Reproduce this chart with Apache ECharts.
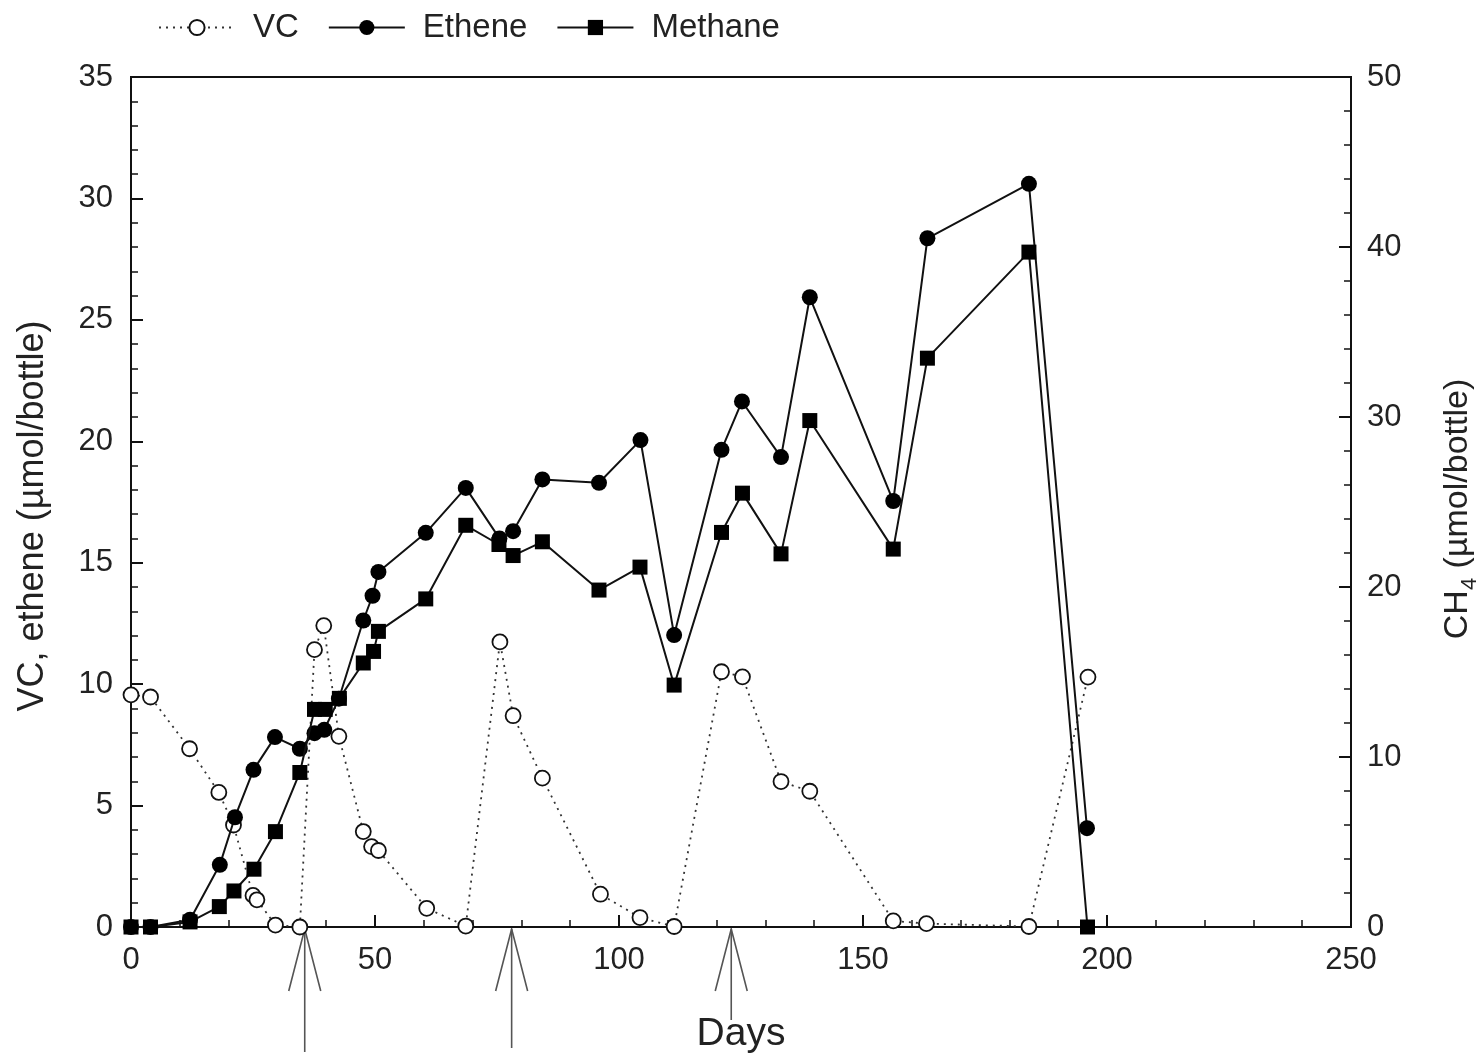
<!DOCTYPE html>
<html>
<head>
<meta charset="utf-8">
<title>VC, ethene and methane</title>
<script src="https://cdn.jsdelivr.net/npm/echarts@6/dist/echarts.min.js"></script>
<style>
  html, body { margin: 0; padding: 0; background: #fff; overflow: hidden; }
  #chart { width: 1480px; height: 1057px; }
</style>
</head>
<body>
<div id="chart"></div>
<script>
// Vinyl chloride (left axis), µmol/bottle
const vcDays   = [0, 4, 12, 18, 21, 25, 25.8, 29.6, 34.6, 37.6, 39.5, 42.6, 47.6, 49.3, 50.7, 60.6, 68.6, 75.6, 78.3, 84.3, 96.2, 104.3, 111.3, 121, 125.3, 133.2, 139.1, 156.2, 163, 184, 196.1];
const vcValues = [9.56, 9.47, 7.34, 5.54, 4.2, 1.3, 1.12, 0.08, 0, 11.42, 12.41, 7.85, 3.93, 3.31, 3.15, 0.77, 0.04, 11.74, 8.7, 6.13, 1.35, 0.39, 0.02, 10.51, 10.3, 5.99, 5.59, 0.25, 0.14, 0.02, 10.29];

// Ethene (left axis), µmol/bottle
const etheneDays   = [0, 4, 12.1, 18.2, 21.3, 25.1, 29.5, 34.6, 37.6, 39.6, 42.6, 47.6, 49.5, 50.7, 60.4, 68.6, 75.5, 78.3, 84.3, 95.9, 104.4, 111.3, 121, 125.2, 133.2, 139.1, 156.2, 163.2, 184, 195.9];
const etheneValues = [0, 0, 0.3, 2.56, 4.52, 6.47, 7.82, 7.34, 7.98, 8.12, 9.4, 12.62, 13.64, 14.62, 16.23, 18.08, 16.0, 16.3, 18.43, 18.29, 20.05, 12.02, 19.65, 21.64, 19.35, 25.93, 17.54, 28.36, 30.6, 4.07];

// Methane (right axis), µmol/bottle
const methaneDays   = [0, 4, 12.1, 18.1, 21.1, 25.2, 29.6, 34.6, 37.6, 39.8, 42.7, 47.6, 49.7, 50.7, 60.4, 68.6, 75.4, 78.3, 84.3, 95.9, 104.3, 111.3, 121, 125.3, 133.2, 139.1, 156.2, 163.2, 184, 196];
const methaneValues = [0, 0, 0.3, 1.2, 2.12, 3.4, 5.61, 9.09, 12.8, 12.8, 13.45, 15.53, 16.21, 17.39, 19.3, 23.63, 22.5, 21.85, 22.66, 19.82, 21.17, 14.23, 23.21, 25.52, 21.95, 29.79, 22.23, 33.46, 39.7, 0];

// Days on which VC was re-added (arrows under the axis)
const additionDays = [35.6, 78, 123];

// Axis ranges and tick steps
const xTicks = { min: 0, max: 250, step: 50 };
const leftTicks = { min: 0, max: 35, step: 5 };
const rightTicks = { min: 0, max: 50, step: 10 };

const pairs = (xs, ys) => xs.map((x, i) => [x, ys[i]]);

const FONT = 'Liberation Sans, Arial, sans-serif';
const INK = '#111';
const TEXT = '#222';

const axisCommon = {
  axisLine: { show: true, lineStyle: { color: INK, width: 2 } },
  axisTick: { show: true, inside: true, length: 12, lineStyle: { color: INK, width: 2 } },
  minorTick: { show: true, splitNumber: 5, length: 7, lineStyle: { color: INK, width: 1.5 } },
  splitLine: { show: false },
  minorSplitLine: { show: false },
  axisLabel: { color: TEXT, fontSize: 31, fontFamily: FONT },
  nameTextStyle: { color: TEXT, fontSize: 36, fontFamily: FONT }
};

const chart = echarts.init(document.getElementById('chart'), null, { renderer: 'canvas', width: 1480, height: 1057 });

chart.setOption({
  backgroundColor: '#fff',
  animation: false,
  textStyle: { fontFamily: FONT },
  grid: {
    left: 131, right: 129, top: 77, bottom: 130,
    containLabel: false,
    outerBoundsMode: 'none',
    show: true, borderColor: INK, borderWidth: 2, backgroundColor: 'transparent'
  },
  legend: {
    left: 153, top: 6,
    itemWidth: 76, itemHeight: 19, itemGap: 29,
    textStyle: { color: TEXT, fontSize: 33, fontFamily: FONT, padding: [0, 0, 0, 13] },
    data: ['VC', 'Ethene', 'Methane']
  },
  xAxis: Object.assign({}, axisCommon, {
    type: 'value',
    min: xTicks.min, max: xTicks.max, interval: xTicks.step,
    name: 'Days', nameLocation: 'middle', nameGap: 88,
    nameTextStyle: { color: TEXT, fontSize: 39, fontFamily: FONT },
    axisLabel: Object.assign({}, axisCommon.axisLabel, { margin: 18 })
  }),
  yAxis: [
    Object.assign({}, axisCommon, {
      type: 'value', position: 'left',
      min: leftTicks.min, max: leftTicks.max, interval: leftTicks.step,
      name: 'VC, ethene (µmol/bottle)', nameLocation: 'middle', nameRotate: 90, nameGap: 80,
      nameTextStyle: { color: TEXT, fontSize: 36, fontFamily: FONT, padding: [0, 28, 0, 0] },
      axisLabel: Object.assign({}, axisCommon.axisLabel, { margin: 18 })
    }),
    Object.assign({}, axisCommon, {
      type: 'value', position: 'right',
      min: rightTicks.min, max: rightTicks.max, interval: rightTicks.step,
      name: '{a|CH}{s|4}{a| (µmol/bottle)}', nameLocation: 'middle', nameRotate: 90, nameGap: 84,
      nameTextStyle: {
        color: TEXT, fontSize: 34, fontFamily: FONT, padding: [0, 14, 0, 0],
        rich: {
          a: { color: TEXT, fontSize: 34, fontFamily: FONT, lineHeight: 40, verticalAlign: 'bottom' },
          s: { color: TEXT, fontSize: 22, fontFamily: FONT, lineHeight: 40, verticalAlign: 'bottom', padding: [0, 0, -6, 0] }
        }
      },
      axisLabel: Object.assign({}, axisCommon.axisLabel, { margin: 16 })
    })
  ],
  series: [
    {
      name: 'VC', type: 'line', yAxisIndex: 0, z: 2,
      data: pairs(vcDays, vcValues),
      symbol: 'circle', symbolSize: 15,
      itemStyle: { color: '#fff', borderColor: INK, borderWidth: 1.8 },
      lineStyle: { color: '#333', width: 1.8, type: [2, 5] }
    },
    {
      name: 'Ethene', type: 'line', yAxisIndex: 0, z: 3,
      data: pairs(etheneDays, etheneValues),
      symbol: 'circle', symbolSize: 16,
      itemStyle: { color: '#000' },
      lineStyle: { color: INK, width: 2 }
    },
    {
      name: 'Methane', type: 'line', yAxisIndex: 1, z: 4,
      data: pairs(methaneDays, methaneValues),
      symbol: 'rect', symbolSize: 15,
      itemStyle: { color: '#000' },
      lineStyle: { color: INK, width: 2 }
    }
  ]
});

// Arrows below the day axis marking the VC additions
function drawArrows() {
  const axisY = chart.convertToPixel({ yAxisIndex: 0 }, 0);
  const tails = [125, 121, 93];
  const elements = additionDays.map((d, i) => {
    const x = chart.convertToPixel({ xAxisIndex: 0 }, d);
    const tip = axisY + 2;
    const style = { stroke: '#555', lineWidth: 1.6, fill: null };
    return {
      type: 'group',
      children: [
        { type: 'line', shape: { x1: x, y1: tip, x2: x, y2: axisY + tails[i] }, style: style },
        { type: 'polyline', shape: { points: [[x - 16, tip + 62], [x, tip], [x + 16, tip + 62]] }, style: style }
      ]
    };
  });
  chart.setOption({ graphic: elements });
}
drawArrows();
</script>
</body>
</html>
